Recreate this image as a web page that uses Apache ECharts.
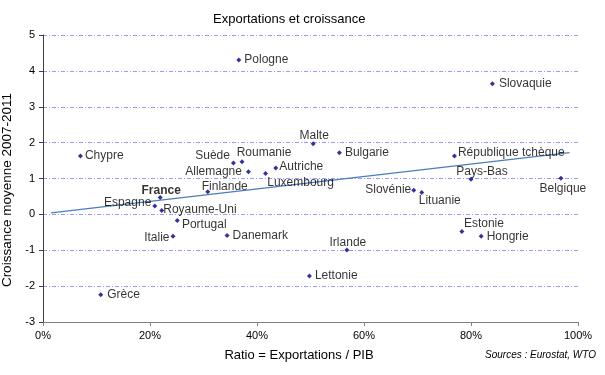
<!DOCTYPE html>
<html>
<head>
<meta charset="utf-8">
<script src="https://cdn.jsdelivr.net/npm/echarts@6/dist/echarts.min.js"></script>
<style>
  html, body { margin: 0; padding: 0; background: #fff; }
  #chart { width: 605px; height: 375px; }
</style>
</head>
<body>
<div id="chart"></div>
<script>
// pays, ratio exportations/PIB (%), croissance moyenne 2007-2011 (%)
var countries = ['Pologne', 'Chypre', 'Suède', 'Roumanie', 'Allemagne', 'Luxembourg', 'Autriche',
  'Finlande', 'France', 'Malte', 'Bulgarie', 'Slovaquie', 'République tchèque', 'Pays-Bas',
  'Belgique', 'Slovénie', 'Lituanie', 'Espagne', 'Royaume-Uni', 'Portugal', 'Italie',
  'Danemark', 'Grèce', 'Lettonie', 'Irlande', 'Estonie', 'Hongrie'];
var exportRatio = [36.6, 7.0, 35.6, 37.2, 38.4, 41.6, 43.5, 30.8, 21.9, 50.5, 55.4, 84.0, 76.9, 80.0,
  96.8, 69.3, 70.8, 20.9, 22.2, 25.1, 24.3, 34.4, 10.8, 49.8, 56.8, 78.3, 81.9];
var growth = [4.30, 1.63, 1.43, 1.47, 1.19, 1.14, 1.29, 0.63, 0.47, 1.97, 1.72, 3.64, 1.63, 0.98,
  1.01, 0.67, 0.61, 0.23, 0.11, -0.17, -0.61, -0.59, -2.24, -1.72, -0.99, -0.48, -0.61];
// label placement: [position, offsetX, offsetY]
var labelPos = {
  'Pologne': ['right', 1, 0], 'Chypre': ['right', 0, 0], 'Suède': ['left', 1, -7],
  'Roumanie': ['top', 22, 2], 'Allemagne': ['left', -2, 0], 'Luxembourg': ['bottom', 35, -1],
  'Autriche': ['right', -1, -1], 'Finlande': ['top', 17, 5], 'France': ['top', 1, 4],
  'Malte': ['top', 1, 2], 'Bulgarie': ['right', 1, 0], 'Slovaquie': ['right', 2, 0],
  'République tchèque': ['right', -1, -3], 'Pays-Bas': ['top', 11, 3], 'Belgique': ['bottom', 2, 0],
  'Slovénie': ['left', 2, -1], 'Lituanie': ['bottom', 18, -2], 'Espagne': ['left', 1, -3],
  'Royaume-Uni': ['right', -3, -1], 'Portugal': ['bottom', 27, -6], 'Italie': ['left', 1, 1],
  'Danemark': ['right', 1, 0], 'Grèce': ['right', 2, 0], 'Lettonie': ['right', 1, 0],
  'Irlande': ['top', 1, 3], 'Estonie': ['top', 22, 3], 'Hongrie': ['right', 1, 0]
};
var trendLine = [[1.5, 0.04], [98.4, 1.72]];
var yTicks = [-3, 5, 1];
var xTicks = [0, 100, 20];

var points = countries.map(function (name, i) {
  var p = labelPos[name];
  return {
    name: name,
    value: [exportRatio[i], growth[i]],
    label: {
      position: p[0],
      offset: [p[1], p[2]],
      fontWeight: name === 'France' ? 'bold' : 'normal'
    }
  };
});

var chart = echarts.init(document.getElementById('chart'));
chart.setOption({
  animation: false,
  textStyle: { fontFamily: 'Liberation Sans, Arial, sans-serif' },
  title: {
    text: 'Exportations et croissance',
    left: 208, top: 8,
    textStyle: { fontSize: 13, fontWeight: 'normal', color: '#000' }
  },
  graphic: [{
    type: 'text', right: 9, top: 350,
    style: { text: 'Sources : Eurostat, WTO', font: 'italic 10px Liberation Sans, Arial', fill: '#000' }
  }, {
    type: 'text', left: 0, top: 93, rotation: Math.PI / 2,
    style: { text: 'Croissance moyenne 2007-2011', font: '13.5px Liberation Sans, Arial', fill: '#000' }
  }],
  grid: { left: 43, right: 27, top: 35, bottom: 53, outerBoundsMode: 'none', containLabel: false },
  xAxis: {
    type: 'value', min: xTicks[0], max: xTicks[1], interval: xTicks[2],
    name: 'Ratio = Exportations / PIB', nameLocation: 'middle', nameGap: 27,
    nameTextStyle: { fontSize: 13, color: '#000', padding: [0, 23, 0, 0] },
    axisLine: { onZero: false, lineStyle: { color: '#808080' } },
    axisTick: { show: true, length: 4, lineStyle: { color: '#808080' } },
    axisLabel: { formatter: '{value}%', fontSize: 11, color: '#000', margin: 8 },
    splitLine: { show: false }
  },
  yAxis: {
    type: 'value', min: yTicks[0], max: yTicks[1], interval: yTicks[2],
    axisLine: { show: true, lineStyle: { color: '#404040' } },
    axisTick: { show: true, length: 4, lineStyle: { color: '#404040' } },
    axisLabel: { fontSize: 11, color: '#000', margin: 8 },
    splitLine: { lineStyle: { color: '#9999ff', type: [4, 2, 1, 2], width: 1 } }
  },
  series: [{
    type: 'line',
    data: trendLine,
    symbol: 'none',
    lineStyle: { color: '#4a7ebb', width: 1.2 },
    silent: true,
    z: 1
  }, {
    type: 'scatter',
    data: points,
    symbol: 'diamond',
    symbolSize: 5,
    itemStyle: { color: '#000080' },
    label: {
      show: true,
      formatter: '{b}',
      fontSize: 12,
      color: '#000',
      distance: 2
    },
    z: 3
  }]
});
</script>
</body>
</html>
